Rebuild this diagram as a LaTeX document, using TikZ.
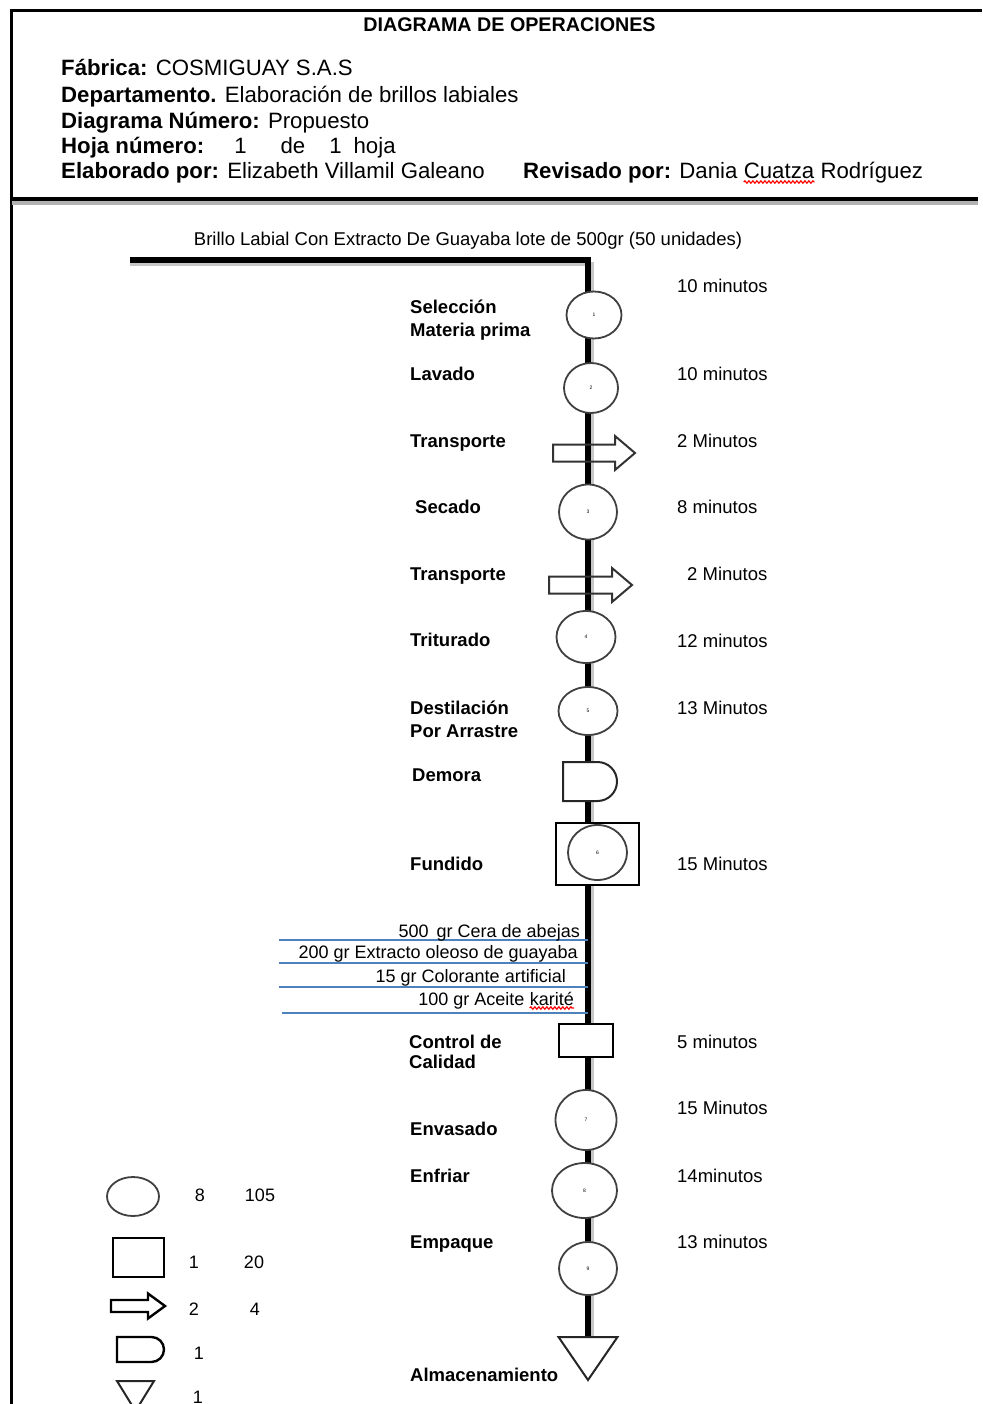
\documentclass[tikz,border=0pt]{standalone}
\usepackage{fontspec}
\setmainfont{Liberation Sans}
\usetikzlibrary{calc,backgrounds,shapes.geometric,shapes.misc,decorations.pathmorphing}
\definecolor{inputblue}{RGB}{79,129,189}
% tail (#2), length #3, body #4, head #5, head length #6
\newcommand{\movearrow}[6][]{\draw[movearrow,#1] ($(#2)+(0,#4/2)$) -- ++({#3-#6},0) -- ++(0,{#5/2-#4/2}) -- ++(#6,{-#5/2}) -- ++({-#6},{-#5/2}) -- ++(0,{#5/2-#4/2}) -- ++({#6-#3},0) -- cycle;}
\tikzset{
	opcircle/.style={ellipse, draw=black!75, line width=1.8pt, fill=white, inner sep=0pt, font=\fontsize{5}{5}\selectfont},
	opbox/.style={rectangle, draw=black, line width=2.6pt, fill=white, inner sep=0pt},
	movearrow/.style={draw=black!80, line width=2pt, line join=miter},
	delaybox/.style={rounded rectangle, rounded rectangle left arc=none, draw=black!85, line width=2pt, fill=white, inner sep=0pt},
	storetri/.style={draw=black!85, line width=2pt, fill=white, line join=miter},
	spine/.style={line width=5.5pt},
	spineshadow/.style={line width=4pt, black!22},
	headtext/.style={anchor=base west, inner sep=0pt, font=\fontsize{22.2}{26}\selectfont},
	steplabel/.style={anchor=base west, inner sep=0pt, font=\fontsize{18.5}{22}\selectfont\bfseries},
	timelabel/.style={anchor=base west, inner sep=0pt, font=\fontsize{18.5}{22}\selectfont},
	inputtext/.style={anchor=base east, inner sep=0pt, font=\fontsize{18}{22}\selectfont},
	inputline/.style={inputblue, line width=2pt},
	spellwave/.style={red, line width=1.2pt, decorate, decoration={snake, amplitude=1.2pt, segment length=4pt}},
	legnum/.style={anchor=base, inner sep=0pt, font=\fontsize{18}{22}\selectfont},
}

\begin{document}
\begin{tikzpicture}[x=1pt,y=1pt]
		%%%%% START %%%%%
		\useasboundingbox (0,0) rectangle (982,-1404);
		
		\draw[line width=3pt] (11.5,-1404) -- (11.5,-11) -- (982,-11);
		\draw[black!30, line width=4pt] (12,-203.5) -- (978,-203.5);
		\draw[line width=4pt] (11,-199.5) -- (978,-199.5);
		
		\node[anchor=base, inner sep=0pt, font=\fontsize{19.7}{24}\selectfont\bfseries] (titulo) at (509.5,-32) {DIAGRAMA DE OPERACIONES};
		\node[headtext] (fabrica) at (61,-76) {\textbf{Fábrica:} COSMIGUAY S.A.S};
		\node[headtext] (depto) at (61,-103) {\textbf{Departamento.} Elaboración de brillos labiales};
		\node[headtext] (numdiag) at (61,-129) {\textbf{Diagrama Número:} Propuesto};
		\node[headtext] (hoja) at (61,-154) {\textbf{Hoja número:}\hspace{30pt}1\hspace{34pt}de\hspace{24pt}1\hspace{12pt}hoja};
		\node[headtext] (elaboro) at (61,-179) {\textbf{Elaborado por:} Elizabeth Villamil Galeano};
		\node[headtext] (reviso) at (523,-179) {\textbf{Revisado por:} Dania\kern6pt};
		\node[headtext] (cuatza) at (reviso.base east) {Cuatza};
		\node[headtext] (rodri) at (cuatza.base east) {\kern6pt Rodríguez};
		\draw[spellwave] ($(cuatza.base west)+(0,-3)$) -- ($(cuatza.base east)+(0,-3)$);
		
		\node[anchor=base, inner sep=0pt, font=\fontsize{18.5}{22}\selectfont] (producto) at (468,-246) {Brillo Labial Con Extracto De Guayaba lote de 500gr (50 unidades)};
		
		\node[opcircle, minimum width=55, minimum height=47] (op1) at (594,-315) {1};
		\node[opcircle, minimum width=54, minimum height=50] (op2) at (591,-388) {2};
		\coordinate (tr1) at (553,-453);
		\movearrow{tr1}{82}{17}{34}{20}
		\node[opcircle, minimum width=58, minimum height=55] (op3) at (588,-512) {3};
		\coordinate (tr2) at (549,-585);
		\movearrow{tr2}{83}{17}{34}{20}
		\node[opcircle, minimum width=59, minimum height=52] (op4) at (586,-637) {4};
		\node[opcircle, minimum width=59, minimum height=48] (op5) at (588,-711) {5};
		\node[delaybox, minimum width=54, minimum height=39] (demora) at (590,-781.5) {};
		\node[opbox, minimum width=83, minimum height=62] (fundbox) at (597.5,-854) {};
		\node[opcircle, minimum width=59, minimum height=55] (op6) at (597.5,-852.5) {6};
		\node[opbox, minimum width=54, minimum height=33] (control) at (586,-1040.5) {};
		\node[opcircle, minimum width=61, minimum height=60] (op7) at (586,-1120) {7};
		\node[opcircle, minimum width=65, minimum height=55] (op8) at (584.5,-1190.5) {8};
		\node[opcircle, minimum width=58, minimum height=53] (op9) at (588,-1268.5) {9};
		\coordinate (alm) at (588,-1337);
		\draw[storetri] ($(alm)+(-29.5,0)$) -- ($(alm)+(29.5,0)$) -- ($(alm)+(0,-43)$) -- cycle;
		
		\coordinate (feed) at (130,-260);
		\begin{pgfonlayer}{background}
			\draw[spineshadow] ($(feed)+(0,-4)$) -| ($(alm)+(3.5,0)$);
			\draw[spine] (feed) -| (alm);
		\end{pgfonlayer}
		
		\node[steplabel] (lsel) at (410,-313) {Selección};
		\node[steplabel] (lsel2) at (410,-336) {Materia prima};
		\node[steplabel] (llav) at (410,-380) {Lavado};
		\node[steplabel] (ltr1) at (410,-447) {Transporte};
		\node[steplabel] (lsec) at (415,-513) {Secado};
		\node[steplabel] (ltr2) at (410,-580) {Transporte};
		\node[steplabel] (ltri) at (410,-646) {Triturado};
		\node[steplabel] (ldes) at (410,-714) {Destilación};
		\node[steplabel] (ldes2) at (410,-737) {Por Arrastre};
		\node[steplabel] (ldem) at (412,-781) {Demora};
		\node[steplabel] (lfun) at (410,-870) {Fundido};
		\node[steplabel] (lcon) at (409,-1048) {Control de};
		\node[steplabel] (lcon2) at (409,-1068) {Calidad};
		\node[steplabel] (lenv) at (410,-1135) {Envasado};
		\node[steplabel] (lenf) at (410,-1182) {Enfriar};
		\node[steplabel] (lemp) at (410,-1248) {Empaque};
		\node[steplabel] (lalm) at (410,-1381) {Almacenamiento};
		
		\node[timelabel] (t1) at (677,-293) {10 minutos};
		\node[timelabel] (t2) at (677,-380) {10 minutos};
		\node[timelabel] (t3) at (677,-447) {2 Minutos};
		\node[timelabel] (t4) at (677,-513) {8 minutos};
		\node[timelabel] (t5) at (687,-580) {2 Minutos};
		\node[timelabel] (t6) at (677,-647) {12 minutos};
		\node[timelabel] (t7) at (677,-714) {13 Minutos};
		\node[timelabel] (t8) at (677,-870) {15 Minutos};
		\node[timelabel] (t9) at (677,-1048) {5 minutos};
		\node[timelabel] (t10) at (677,-1114) {15 Minutos};
		\node[timelabel] (t11) at (677,-1182) {14minutos};
		\node[timelabel] (t12) at (677,-1248) {13 minutos};
		
		\coordinate (in1) at (279,-940);
		\coordinate (in2) at (279,-963);
		\coordinate (in3) at (279,-987);
		\coordinate (in4) at (282,-1013);
		\draw[inputline] (in1) -- (in1 -| alm);
		\draw[inputline] (in2) -- (in2 -| alm);
		\draw[inputline] (in3) -- (in3 -| alm);
		\draw[inputline] (in4) -- (in4 -| alm);
		\node[inputtext] (cera) at (580,-937) {500\, gr Cera de abejas};
		\node[inputtext] (extracto) at (578,-958) {200 gr Extracto oleoso de guayaba};
		\node[inputtext] (colorante) at (566,-982) {15 gr Colorante artificial};
		\node[inputtext] (karite) at (574,-1005) {karité};
		\node[inputtext] (aceite) at (karite.base west) {100 gr Aceite\kern5pt};
		\draw[spellwave] ($(karite.base west)+(0,-3)$) -- ($(karite.base east)+(0,-3)$);
		
		\node[opcircle, minimum width=52, minimum height=39] (leyop) at (133,-1196.5) {};
		\node[opbox, minimum width=51, minimum height=39] (leyins) at (138.5,-1257.5) {};
		\coordinate (leytr) at (111,-1306);
		\movearrow[draw=black, line width=2.4pt]{leytr}{54}{12}{25}{17}
		\node[delaybox, minimum width=47, minimum height=25, draw=black, line width=2.4pt] (leydem) at (140.5,-1349.5) {};
		\coordinate (leyalm) at (135.5,-1381);
		\draw[storetri] ($(leyalm)+(-18.5,0)$) -- ($(leyalm)+(18.5,0)$) -- ($(leyalm)+(0,-30)$) -- cycle;
		
		\node[legnum] (nop) at (200,-1201) {8};
		\node[legnum] (top) at (260,-1201) {105};
		\node[legnum] (nins) at (194,-1268) {1};
		\node[legnum] (tins) at (254,-1268) {20};
		\node[legnum] (ntr) at (194,-1315) {2};
		\node[legnum] (ttr) at (255,-1315) {4};
		\node[legnum] (ndem) at (199,-1359) {1};
		\node[legnum] (nalm) at (198,-1403) {1};
		
		%%%%% END %%%%%
\end{tikzpicture}
\end{document}
